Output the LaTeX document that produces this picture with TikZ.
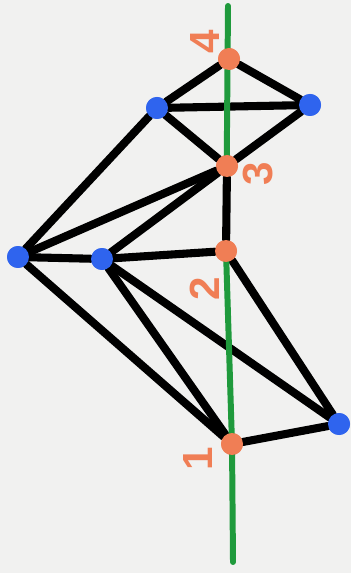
\documentclass[tikz,border=0pt]{standalone}
\usepackage{fontspec}
\setmainfont{Liberation Sans}
\definecolor{dotorange}{HTML}{F07E55}
\definecolor{dotblue}{HTML}{2F64EE}
\definecolor{axisgreen}{HTML}{1F9A3C}
\definecolor{paper}{HTML}{F1F1F0}
\begin{document}
\begin{tikzpicture}[
    x=0.02cm, y=-0.02cm,
    cut/.style={circle, fill=dotorange, inner sep=0pt, minimum size=0.44cm},
    vertex/.style={circle, fill=dotblue, inner sep=0pt, minimum size=0.44cm},
    edge/.style={line width=4.6pt, line cap=round, black},
    axis/.style={line width=3.4pt, line cap=round, axisgreen},
    num/.style={font=\fontsize{24}{24}\selectfont\bfseries, text=dotorange, rotate=90}
]
\fill[paper] (0,0) rectangle (351,573);
\useasboundingbox (0,0) rectangle (351,573);

% cut points on the axis
\coordinate (top) at (228,6);
\coordinate (bot) at (233,562);
\node[cut] (c4) at (229,59) {};
\node[cut] (c3) at (227,166) {};
\node[cut] (c2) at (226,251) {};
\node[cut] (c1) at (232,444) {};

% blue vertices
\node[vertex] (a) at (157,108) {};
\node[vertex] (b) at (310,105) {};
\node[vertex] (c) at (18,257) {};
\node[vertex] (d) at (102,259) {};
\node[vertex] (e) at (339,424) {};

% edges
\draw[edge] (c4) -- (a);
\draw[edge] (c4) -- (b);
\draw[edge] (a) -- (b);
\draw[edge] (a) -- (c3);
\draw[edge] (b) -- (c3);
\draw[edge] (a) -- (c);
\draw[edge] (c) -- (c3);
\draw[edge] (d) -- (c3);
\draw[edge] (c) -- (d);
\draw[edge] (d) -- (c2);
\draw[edge] (c) -- (c1);
\draw[edge] (d) -- (c1);
\draw[edge] (d) -- (e);
\draw[edge] (c2) -- (e);
\draw[edge] (c1) -- (e);

% axis
\draw[axis] (top) -- (c2.center) -- (c1.center) -- (bot);
\draw[edge] (c3) -- (c2);

% redraw dots on top
\node[cut] at (c4) {};
\node[cut] at (c3) {};
\node[cut] at (c2) {};
\node[cut] at (c1) {};
\node[vertex] at (a) {};
\node[vertex] at (b) {};
\node[vertex] at (c) {};
\node[vertex] at (d) {};
\node[vertex] at (e) {};

% labels
\node[num] (l4) at (205,42) {4};
\node[num] (l3) at (258,174) {3};
\node[num] (l2) at (205,289) {2};
\node[num] (l1) at (198,459) {1};

\end{tikzpicture}
\end{document}
